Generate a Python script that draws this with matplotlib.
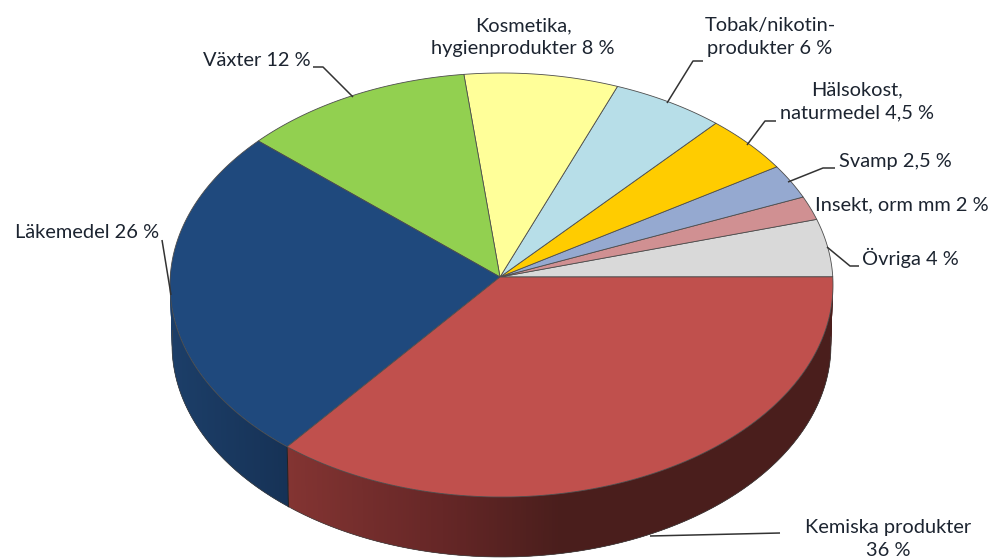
import numpy as np
import matplotlib
matplotlib.use("Agg")
import matplotlib.pyplot as plt

categories = ["Övriga", "Insekt, orm mm", "Svamp", "Hälsokost, naturmedel", "Tobak/nikotinprodukter",
              "Kosmetika, hygienprodukter", "Växter", "Läkemedel", "Kemiska produkter"]
shares = [4.4, 1.8, 2.6, 4.4, 5.5, 7.5, 11.3, 25.7, 36.8]
top_colors = ["#D9D9D9", "#D09092", "#95A9D0", "#FFCC00", "#B7DEE8", "#FFFF99", "#92D050", "#1F497D", "#C0504D"]
label_texts = ["Övriga 4 %", "Insekt, orm mm 2 %", "Svamp 2,5 %", "Hälsokost,\nnaturmedel 4,5 %",
               "Tobak/nikotin-\nprodukter 6 %", "Kosmetika,\nhygienprodukter 8 %", "Växter 12 %",
               "Läkemedel 26 %", "Kemiska produkter\n36 %"]

# pie geometry in pixels
CX, CY, RX, RY = 501.5, 285, 331.5, 212
AX, AY = 500, 277
DEPTH = 60
START = 2.2

plt.rcParams['font.family'] = ['Lato', 'DejaVu Sans']
fig = plt.figure(figsize=(9.96, 5.58), dpi=100)
ax = fig.add_axes([0, 0, 1, 1])
ax.set_xlim(0, 996)
ax.set_ylim(558, 0)
ax.axis("off")


def rim(deg, dy=0, shrink=0):
    t = np.radians(deg)
    return CX + (RX - shrink) * np.cos(t), CY + dy - RY * np.sin(t)


def side_color(i, x):
    if categories[i] == "Kemiska produkter":
        rgb = [np.interp(x, [288, 450, 560], c) for c in ([131, 100, 74], [52, 38, 30], [50, 38, 28])]
    else:
        rgb = [np.interp(x, [172, 288], c) for c in ([28, 22], [62, 50], [104, 86])]
    return tuple(v / 255 for v in rgb)


bounds = START + np.concatenate([[0], np.cumsum(shares)]) * 3.6

# side wall, drawn as overlapping strips so the shading runs along it without seams
for i, (a, b) in enumerate(zip(bounds[:-1], bounds[1:])):
    lo, hi = max(a, 176), min(b, 362.2)
    if hi <= lo:
        continue
    edges = np.linspace(lo, hi, max(2, int((hi - lo) * 2) + 1))
    for e0, e1 in zip(edges[:-1], edges[1:]):
        e1x = min(e1 + 1.0, hi)
        x0, y0 = rim(e0)
        x1, y1 = rim(e1x)
        x2, y2 = rim(e1x, DEPTH, 2)
        x3, y3 = rim(e0, DEPTH, 2)
        col = side_color(i, (x0 + rim(e1)[0]) / 2)
        ax.fill([x0, x1, x2, x3], [y0, y1, y2, y3], color=col, lw=0, zorder=2)

# dark outline of the wall
tt = np.linspace(176, 362.2, 300)
xb, yb = rim(tt, DEPTH, 2)
ax.plot(xb, yb, color="#444444", lw=0.5, zorder=3)
xs, ys = rim(bounds[-2])
xs2, ys2 = rim(bounds[-2], DEPTH, 2)
ax.plot([xs, xs2], [ys, ys2], color="#222222", lw=0.7, zorder=3)

# top face
for i, (a, b) in enumerate(zip(bounds[:-1], bounds[1:])):
    tt = np.linspace(a, b, 200)
    x, y = rim(tt)
    ax.fill(np.r_[AX, x], np.r_[AY, y], facecolor=top_colors[i], edgecolor="#4d4d4d", lw=0.6,
            joinstyle="round", zorder=4)

# leader lines
leaders = [
    ([859, 850, 827], [266, 266, 247]),
    ([835, 823, 788], [168, 168, 182]),
    ([776, 765, 747], [121, 121, 145]),
    ([703, 693, 667], [61, 61, 103]),
    ([313, 323, 353], [67, 67, 97]),
    ([162, 171], [240, 295]),
    ([780, 650], [533, 536]),
]
for lx, ly in leaders:
    ax.plot(lx, ly, color="#333333", lw=1.1, zorder=5, solid_capstyle="butt")

# labels
placements = [
    (862, 258, "left"), (815, 205, "left"), (839, 162, "left"), (857, 101, "center"),
    (770, 37, "center"), (523, 37, "center"), (203, 60, "left"), (15, 233, "left"), (888, 539, "center"),
]
for txt, (px, py, ha) in zip(label_texts, placements):
    ax.text(px, py, txt, ha=ha, va="center", fontsize=14.4, color="#1c2430",
            linespacing=1.42, multialignment="center", zorder=6)

fig.savefig("out.png", dpi=100)
